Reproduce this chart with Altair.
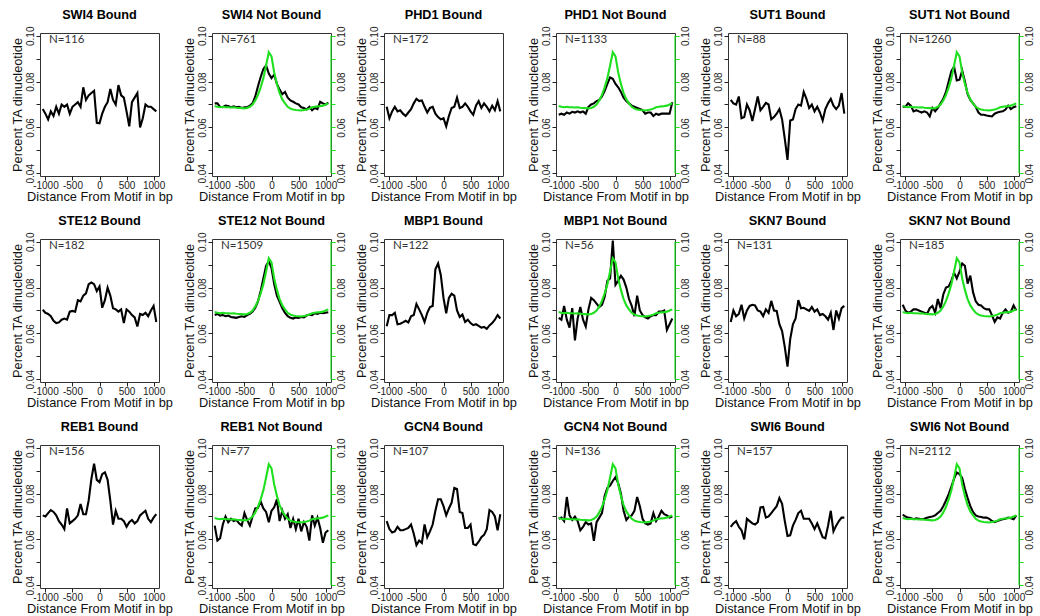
import altair as alt
import pandas as pd

# ---------------- data ----------------
POSITIONS = list(range(-1050, 1051, 50))  # bp from motif, 43 positions

# genome-wide reference profile (green) drawn in every "Not Bound" panel
GREEN_REF = [0.0693, 0.0690, 0.0688, 0.0690, 0.0688, 0.0688, 0.0687, 0.0688, 0.0686, 0.0685,
             0.0684, 0.0683, 0.0685, 0.0690, 0.0700, 0.0718, 0.0742, 0.0775, 0.0815, 0.0870,
             0.0928, 0.0910, 0.0840, 0.0790, 0.0750, 0.0722, 0.0705, 0.0690, 0.0682, 0.0678,
             0.0676, 0.0675, 0.0674, 0.0676, 0.0678, 0.0682, 0.0688, 0.0690, 0.0692, 0.0693,
             0.0695, 0.0700, 0.0705]

SWI4_B = [0.068, 0.066, 0.0635, 0.067, 0.065, 0.069, 0.066, 0.070, 0.069, 0.070,
          0.066, 0.069, 0.070, 0.071, 0.069, 0.0775, 0.072, 0.074, 0.075, 0.076,
          0.062, 0.0618, 0.066, 0.069, 0.071, 0.0768, 0.072, 0.070, 0.0785, 0.074,
          0.073, 0.067, 0.0605, 0.071, 0.073, 0.075, 0.060, 0.064, 0.070, 0.069,
          0.069, 0.068, 0.067]
SWI4_NB = [0.0705, 0.0705, 0.069, 0.0688, 0.0695, 0.0693, 0.0688, 0.0692, 0.0688, 0.069,
           0.0685, 0.0688, 0.0688, 0.0695, 0.0705, 0.0735, 0.078, 0.082, 0.0855, 0.087,
           0.0835, 0.0815, 0.083, 0.079, 0.0765, 0.0745, 0.0755, 0.073, 0.0718, 0.0712,
           0.0705, 0.070, 0.0688, 0.0685, 0.0678, 0.0690, 0.0675, 0.0685, 0.0680, 0.0712,
           0.0705, 0.0700, 0.0708]
PHD1_B = [0.069, 0.064, 0.067, 0.069, 0.067, 0.0675, 0.066, 0.065, 0.0665, 0.068,
          0.0705, 0.0725, 0.0715, 0.0718, 0.069, 0.0665, 0.0685, 0.069, 0.066, 0.0645,
          0.0635, 0.064, 0.0605, 0.065, 0.0685, 0.069, 0.073, 0.0685, 0.069, 0.0705,
          0.069, 0.067, 0.0655, 0.0695, 0.0715, 0.0685, 0.0705, 0.069, 0.067, 0.0695,
          0.0675, 0.0715, 0.067]
PHD1_NB = [0.0655, 0.066, 0.0655, 0.0665, 0.066, 0.0668, 0.0665, 0.067, 0.0665, 0.067,
           0.066, 0.069, 0.070, 0.0705, 0.0715, 0.072, 0.0735, 0.076, 0.079, 0.0818,
           0.0812, 0.079, 0.0775, 0.0755, 0.073, 0.0715, 0.0705, 0.0695, 0.069, 0.0685,
           0.068, 0.0675, 0.066, 0.0665, 0.0665, 0.065, 0.066, 0.0655, 0.066, 0.066,
           0.066, 0.066, 0.071]
SUT1_B = [0.072, 0.0705, 0.070, 0.0735, 0.064, 0.0645, 0.070, 0.0675, 0.0628, 0.068,
          0.0735, 0.0675, 0.069, 0.0707, 0.070, 0.0635, 0.0645, 0.066, 0.068, 0.0635,
          0.055, 0.0458, 0.063, 0.0635, 0.068, 0.070, 0.0695, 0.0755, 0.0725, 0.0685,
          0.070, 0.067, 0.069, 0.0665, 0.063, 0.068, 0.0705, 0.0725, 0.0695, 0.068,
          0.0695, 0.075, 0.066]
SUT1_NB = [0.069, 0.069, 0.0705, 0.0695, 0.067, 0.0675, 0.067, 0.0665, 0.067, 0.0665,
           0.0648, 0.0685, 0.067, 0.0685, 0.0705, 0.0725, 0.0755, 0.080, 0.0845, 0.0865,
           0.0805, 0.0808, 0.0848, 0.080, 0.0745, 0.072, 0.0705, 0.069, 0.0665, 0.0655,
           0.0655, 0.0652, 0.065, 0.0648, 0.066, 0.0665, 0.0668, 0.067, 0.0678, 0.0695,
           0.068, 0.0688, 0.0692]
STE12_B = [0.0703, 0.069, 0.0685, 0.0675, 0.0655, 0.0645, 0.0648, 0.066, 0.0665, 0.066,
           0.0695, 0.0698, 0.0695, 0.0745, 0.074, 0.0765, 0.0775, 0.0815, 0.0822, 0.0815,
           0.0785, 0.0805, 0.0712, 0.0745, 0.080, 0.0765, 0.071, 0.0705, 0.0695, 0.0705,
           0.0645, 0.0705, 0.0695, 0.068, 0.067, 0.063, 0.0685, 0.068, 0.069, 0.0675,
           0.070, 0.072, 0.065]
STE12_NB = [0.068, 0.0685, 0.0678, 0.068, 0.0675, 0.0678, 0.0672, 0.067, 0.0668, 0.0672,
            0.0675, 0.0672, 0.068, 0.0685, 0.0695, 0.0712, 0.074, 0.0785, 0.084, 0.0895,
            0.0915, 0.0885, 0.0815, 0.0765, 0.0738, 0.071, 0.069, 0.0675, 0.0668, 0.0665,
            0.067, 0.0668, 0.0672, 0.067, 0.0678, 0.0682, 0.068, 0.0688, 0.0685, 0.069,
            0.0688, 0.069, 0.0692]
MBP1_B = [0.0631, 0.068, 0.068, 0.069, 0.064, 0.0642, 0.0648, 0.0655, 0.0648, 0.0675,
          0.068, 0.0728, 0.0705, 0.068, 0.065, 0.069, 0.0715, 0.072, 0.088, 0.0905,
          0.0855, 0.0755, 0.0688, 0.0755, 0.0773, 0.0765, 0.070, 0.0672, 0.0682, 0.065,
          0.066, 0.0645, 0.0636, 0.064, 0.0633, 0.0625, 0.0628, 0.062, 0.0635, 0.0645,
          0.066, 0.068, 0.0665]
MBP1_NB = [0.0668, 0.066, 0.072, 0.066, 0.0625, 0.071, 0.057, 0.0665, 0.0715, 0.066,
           0.063, 0.0705, 0.0755, 0.0745, 0.073, 0.0715, 0.0725, 0.076, 0.083, 0.084,
           0.1005, 0.0812, 0.083, 0.0852, 0.0835, 0.080, 0.075, 0.072, 0.0675, 0.0765,
           0.070, 0.068, 0.067, 0.0665, 0.0675, 0.068, 0.068, 0.0695, 0.0695, 0.070,
           0.0615, 0.064, 0.0665]
SKN7_B = [0.065, 0.070, 0.0675, 0.0685, 0.0725, 0.0665, 0.070, 0.072, 0.0725, 0.0722,
          0.070, 0.0695, 0.0675, 0.0705, 0.069, 0.0742, 0.070, 0.0698, 0.064, 0.061,
          0.054, 0.0455, 0.0575, 0.064, 0.0665, 0.0745, 0.071, 0.0712, 0.0705, 0.0698,
          0.0715, 0.0695, 0.0705, 0.068, 0.0685, 0.0675, 0.066, 0.069, 0.0615, 0.070,
          0.0665, 0.071, 0.072]
SKN7_NB = [0.0725, 0.070, 0.069, 0.0695, 0.0705, 0.0705, 0.070, 0.0695, 0.069, 0.0685,
           0.071, 0.072, 0.069, 0.075, 0.071, 0.077, 0.080, 0.0805, 0.083, 0.0865,
           0.084, 0.087, 0.0905, 0.0895, 0.0817, 0.0852, 0.078, 0.074, 0.0725, 0.0722,
           0.071, 0.0705, 0.0705, 0.068, 0.065, 0.067, 0.0665, 0.069, 0.0705, 0.069,
           0.0695, 0.0722, 0.070]
REB1_B = [0.0705, 0.070, 0.0715, 0.0728, 0.072, 0.0705, 0.068, 0.0665, 0.0645, 0.0735,
          0.067, 0.068, 0.069, 0.0705, 0.0755, 0.071, 0.071, 0.077, 0.0864, 0.093,
          0.086, 0.085, 0.0885, 0.0893, 0.086, 0.0769, 0.0665, 0.0725, 0.069, 0.069,
          0.068, 0.0655, 0.0675, 0.0685, 0.067, 0.068, 0.0705, 0.0715, 0.0725, 0.069,
          0.0675, 0.0695, 0.071]
REB1_NB = [0.066, 0.0595, 0.0605, 0.0665, 0.070, 0.0675, 0.069, 0.068, 0.0685, 0.067,
           0.066, 0.0715, 0.0685, 0.066, 0.070, 0.0735, 0.0738, 0.0765, 0.0735, 0.072,
           0.0675, 0.0725, 0.074, 0.0775, 0.068, 0.0725, 0.069, 0.071, 0.065, 0.069,
           0.0645, 0.069, 0.0635, 0.0675, 0.0655, 0.0595, 0.0705, 0.066, 0.0695, 0.065,
           0.0585, 0.063, 0.064]
GCN4_B = [0.068, 0.0645, 0.063, 0.0635, 0.0655, 0.064, 0.064, 0.0645, 0.065, 0.0665,
          0.0625, 0.0575, 0.0595, 0.0585, 0.0665, 0.061, 0.0635, 0.0665, 0.0725, 0.0775,
          0.0775, 0.0745, 0.0705, 0.0735, 0.076, 0.0825, 0.082, 0.072, 0.0715, 0.065,
          0.065, 0.0665, 0.058, 0.0575, 0.059, 0.061, 0.062, 0.0645, 0.0728, 0.072,
          0.070, 0.064, 0.071]
GCN4_NB = [0.069, 0.0695, 0.068, 0.0785, 0.0705, 0.0685, 0.070, 0.068, 0.064, 0.0655,
           0.0675, 0.0665, 0.067, 0.0594, 0.0675, 0.0695, 0.0715, 0.079, 0.0825, 0.0835,
           0.0855, 0.0872, 0.0845, 0.080, 0.0725, 0.0685, 0.070, 0.0705, 0.0725, 0.0785,
           0.0745, 0.069, 0.067, 0.0665, 0.067, 0.0715, 0.068, 0.070, 0.0725, 0.071,
           0.0705, 0.0695, 0.070]
SWI6_B = [0.0655, 0.067, 0.068, 0.0655, 0.064, 0.060, 0.069, 0.068, 0.067, 0.0665,
          0.0675, 0.074, 0.0742, 0.0695, 0.070, 0.0715, 0.073, 0.0745, 0.078, 0.0755,
          0.068, 0.0615, 0.0618, 0.066, 0.0685, 0.0715, 0.0725, 0.069, 0.069, 0.069,
          0.067, 0.0645, 0.067, 0.064, 0.061, 0.0605, 0.066, 0.0725, 0.0635, 0.066,
          0.068, 0.0695, 0.0695]
SWI6_NB = [0.0708, 0.070, 0.0695, 0.0693, 0.0688, 0.0692, 0.069, 0.0688, 0.069, 0.0695,
           0.0698, 0.070, 0.0705, 0.0715, 0.0725, 0.0745, 0.077, 0.0798, 0.083, 0.0865,
           0.0892, 0.0885, 0.0868, 0.082, 0.078, 0.0745, 0.072, 0.0705, 0.070, 0.0698,
           0.0695, 0.0695, 0.069, 0.068, 0.0675, 0.068, 0.0685, 0.0688, 0.069, 0.0695,
           0.0692, 0.0688, 0.0705]

PANELS = [
    ("SWI4 Bound", 116, SWI4_B, False), ("SWI4 Not Bound", 761, SWI4_NB, True),
    ("PHD1 Bound", 172, PHD1_B, False), ("PHD1 Not Bound", 1133, PHD1_NB, True),
    ("SUT1 Bound", 88, SUT1_B, False), ("SUT1 Not Bound", 1260, SUT1_NB, True),
    ("STE12 Bound", 182, STE12_B, False), ("STE12 Not Bound", 1509, STE12_NB, True),
    ("MBP1 Bound", 122, MBP1_B, False), ("MBP1 Not Bound", 56, MBP1_NB, True),
    ("SKN7 Bound", 131, SKN7_B, False), ("SKN7 Not Bound", 185, SKN7_NB, True),
    ("REB1 Bound", 156, REB1_B, False), ("REB1 Not Bound", 77, REB1_NB, True),
    ("GCN4 Bound", 107, GCN4_B, False), ("GCN4 Not Bound", 136, GCN4_NB, True),
    ("SWI6 Bound", 157, SWI6_B, False), ("SWI6 Not Bound", 2112, SWI6_NB, True),
]

X_TICKS = [-1000, -500, 0, 500, 1000]
Y_TICKS = [0.04, 0.05, 0.06, 0.07, 0.08, 0.09, 0.10]
GREEN_AXIS_SPAN = [0.04, 0.10]

# ---------------- styling ----------------
W, H = 119, 143
GREEN_C = "#1ee01e"
FONT = "Liberation Sans"
YLAB = "round(datum.value * 100) % 2 == 0 ? format(datum.value, '.2f') : ''"

xscale = alt.Scale(domain=[-1100, 1100], nice=False, zero=False)
yscale = alt.Scale(domain=[0.0388, 0.1012], nice=False, zero=False)

x_axis = alt.Axis(values=X_TICKS, labelExpr="'' + datum.value", title="Distance From Motif in bp",
                  labelOverlap=False, labelFlush=False, labelPadding=0, titlePadding=0)
left_axis = alt.Axis(orient="left", values=Y_TICKS, labelExpr=YLAB, labelAngle=270,
                     labelAlign="center", labelBaseline="bottom", labelOverlap=False,
                     labelFlush=False, title="Percent TA dinucleotide")
right_axis = alt.Axis(orient="right", values=Y_TICKS, labelExpr=YLAB, labelAngle=270,
                      labelAlign="center", labelBaseline="top", labelOverlap=False,
                      labelFlush=False, title="", tickColor=GREEN_C)


def panel(title, n, black, with_green):
    rows = {"pos": [], "black": [], "green": []}
    for p, b, g in zip(POSITIONS, black, GREEN_REF):
        rows["pos"].append(p)
        rows["black"].append(b)
        rows["green"].append(g)
    df = pd.DataFrame(rows)
    base = alt.Chart(df)
    xenc = alt.X("pos:Q", scale=xscale, axis=x_axis)
    layers = [
        base.mark_line(color="black", strokeWidth=2.1, clip=True).encode(
            x=xenc, y=alt.Y("black:Q", scale=yscale, axis=left_axis))
    ]
    if with_green:
        layers.append(base.mark_line(color=GREEN_C, strokeWidth=2.1, clip=True).encode(
            x=xenc, y=alt.Y("green:Q", scale=yscale, axis=right_axis)))
        span = pd.DataFrame({"lo": [GREEN_AXIS_SPAN[0]], "hi": [GREEN_AXIS_SPAN[1]]})
        layers.append(alt.Chart(span).mark_rule(color=GREEN_C, strokeWidth=1.2).encode(
            x=alt.value(W), y=alt.Y("lo:Q", scale=yscale, axis=None), y2="hi:Q"))
    lab = pd.DataFrame({"label": [f"N={n}"]})
    layers.append(alt.Chart(lab).mark_text(align="left", baseline="middle", font="Lato",
                                           fontSize=11.5, color="#333").encode(
        x=alt.value(9), y=alt.value(7), text="label:N"))
    ch = alt.layer(*layers).properties(width=W, height=H, title=title)
    if with_green:
        ch = ch.resolve_axis(y="independent")
    return ch


charts = [panel(t, n, b, g) for (t, n, b, g) in PANELS]

chart = alt.concat(*charts, columns=6, spacing={"row": 63, "column": 53}, bounds="flush").properties(
    padding={"left": 10, "top": 8, "right": 0, "bottom": 0}
).configure(font=FONT).configure_view(
    stroke="#333", strokeWidth=1
).configure_axis(
    grid=False, domain=False, labelFont=FONT, labelFontSize=10, labelColor="#222",
    titleFont=FONT, titleFontSize=12.8, titleFontWeight="normal", titleColor="#111",
    tickColor="#222", tickSize=4, labelPadding=1, titlePadding=1
).configure_title(
    font=FONT, fontSize=12.7, fontWeight="bold", color="#000", offset=4, anchor="middle"
)

chart.save("out.html", embed_options={"renderer": "svg", "actions": False})
